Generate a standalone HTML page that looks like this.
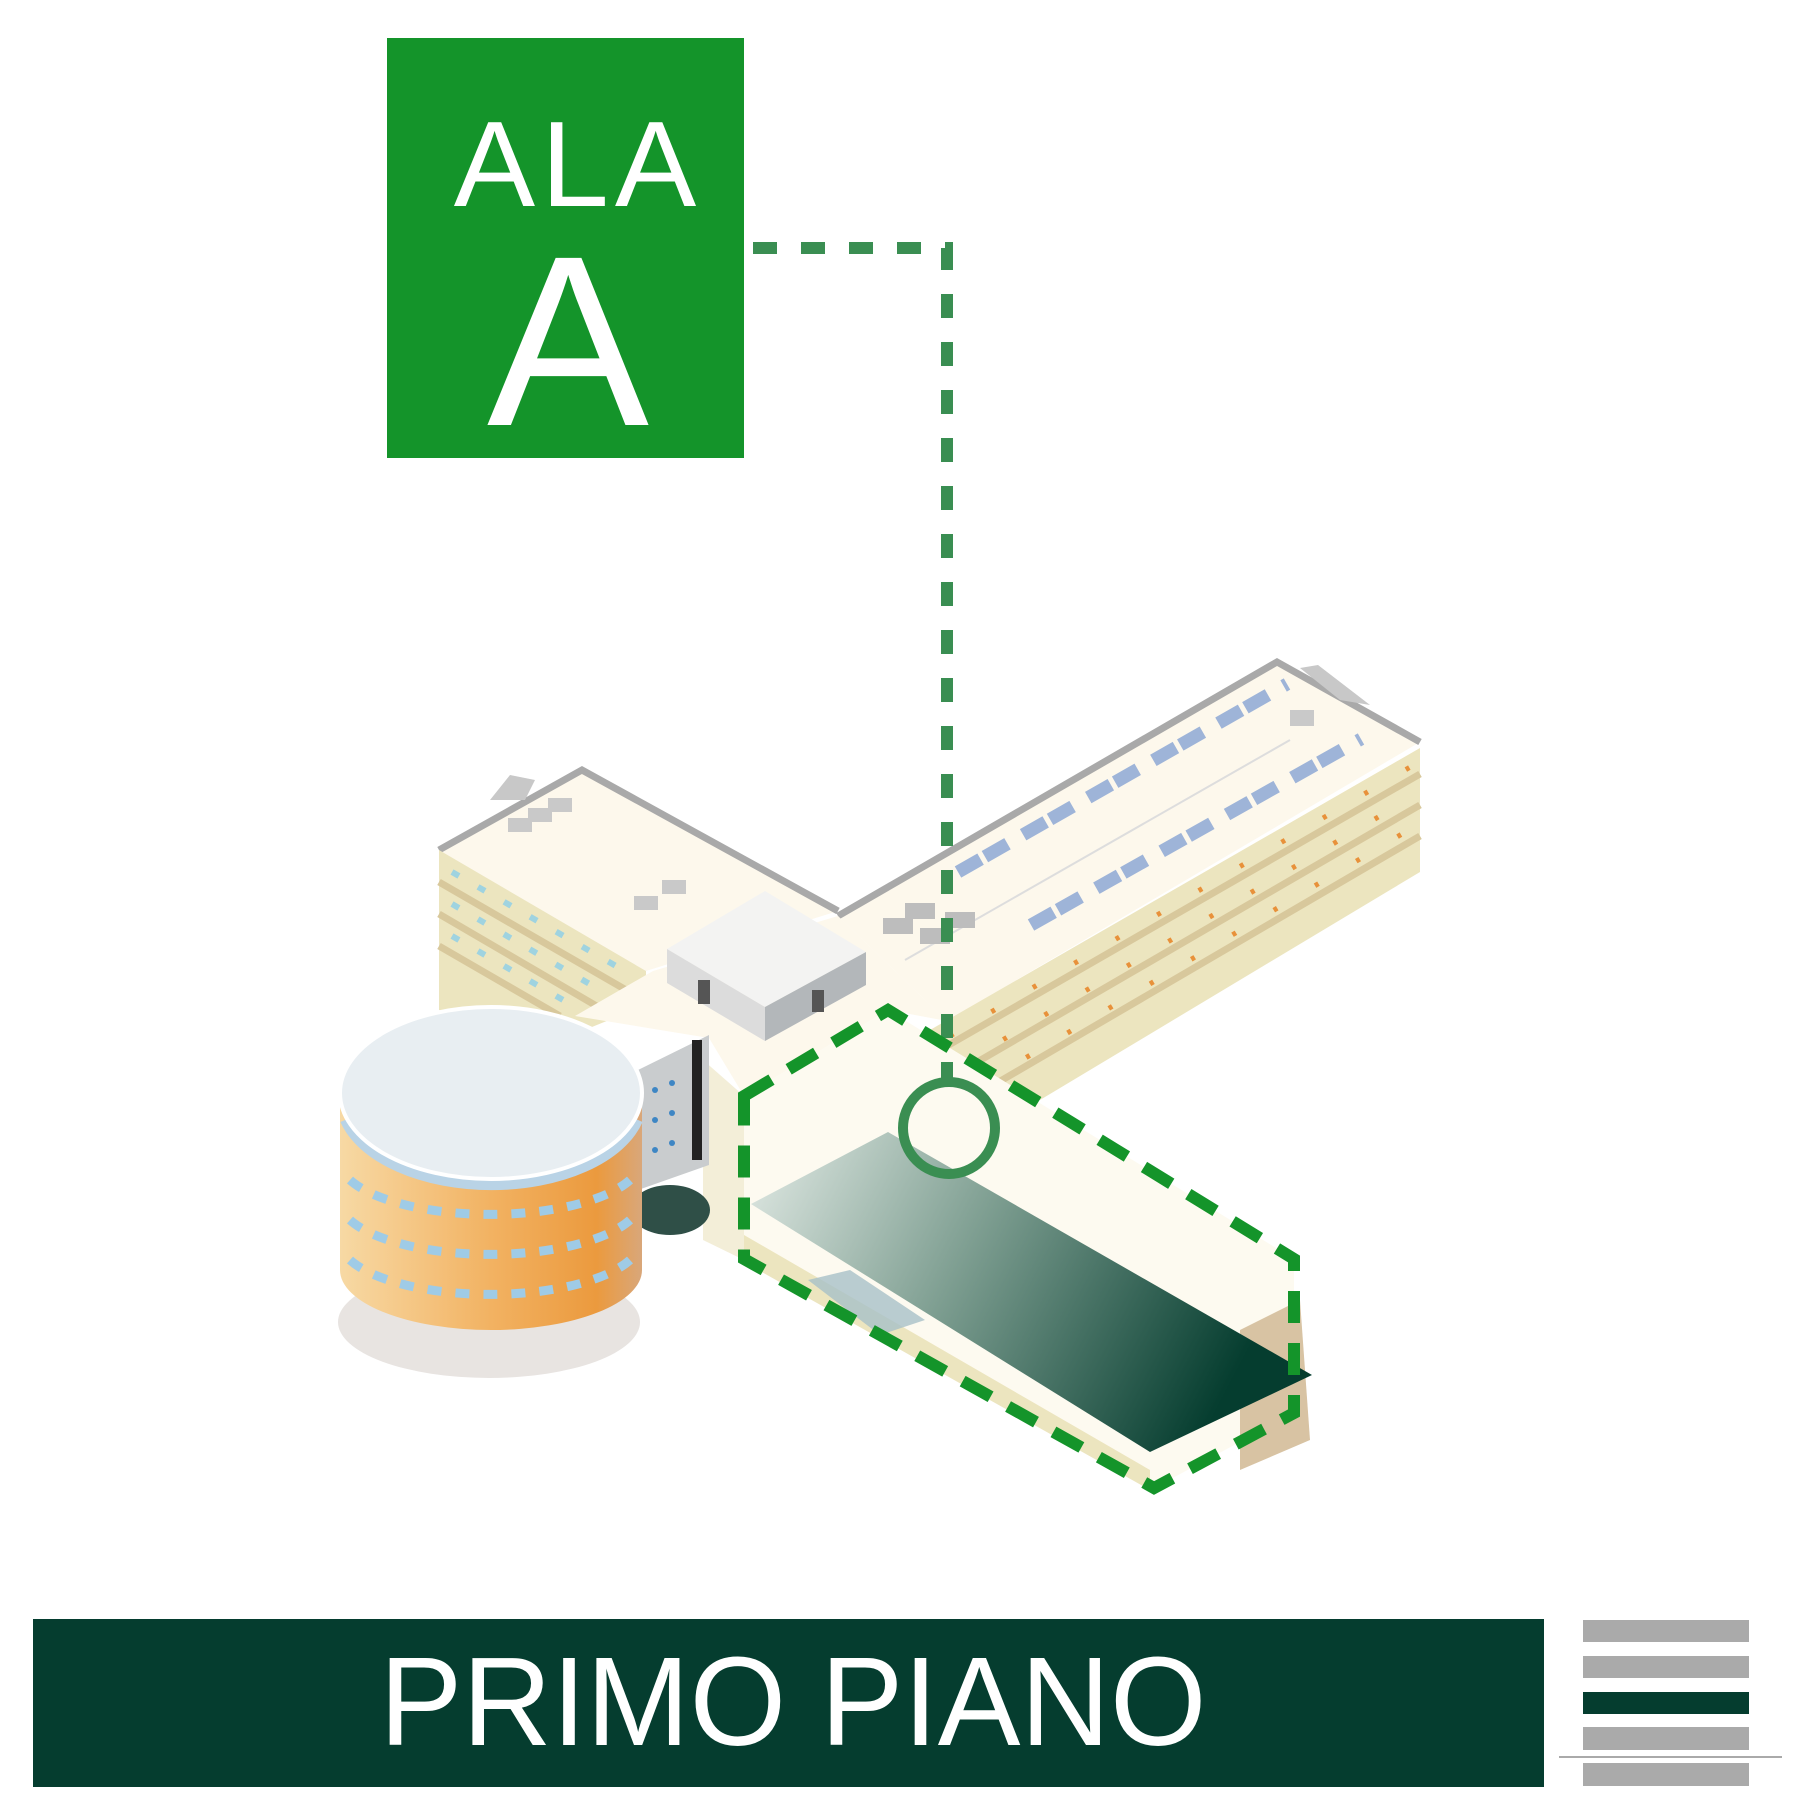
<!DOCTYPE html>
<html><head><meta charset="utf-8"><style>
html,body{margin:0;padding:0;background:#fff;}
svg{display:block;}
</style></head><body>
<svg width="1793" height="1817" viewBox="0 0 1793 1817" xmlns="http://www.w3.org/2000/svg">
<defs>
<linearGradient id="roofg" x1="0" y1="0" x2="1" y2="0.3">
<stop offset="0" stop-color="#e3ebe6"/><stop offset="0.45" stop-color="#7f9f92"/><stop offset="1" stop-color="#053d2f"/>
</linearGradient>
<linearGradient id="cyl" x1="0" y1="0" x2="1" y2="0">
<stop offset="0" stop-color="#f7d9a4"/><stop offset="0.5" stop-color="#f2b262"/><stop offset="0.85" stop-color="#eb9a3e"/><stop offset="1" stop-color="#d9a77a"/>
</linearGradient>
</defs>
<rect width="1793" height="1817" fill="#fff"/>

<rect x="387" y="38" width="357" height="420" fill="#14942a"/>
<text x="578" y="206" font-family="Liberation Sans, sans-serif" font-size="122" fill="#fff" text-anchor="middle" letter-spacing="6">ALA</text>
<text x="568" y="425" font-family="Liberation Sans, sans-serif" font-size="243" fill="#fff" text-anchor="middle">A</text>

<polygon points="439,850 582,770 838,911 646,971" fill="#fdf8ec"/>
<polyline points="439,850 582,770 838,911" fill="none" stroke="#a9a9a9" stroke-width="7"/>
<polygon points="439,850 646,971 646,1005 560,1040 439,1010" fill="#ece5bf"/>
<g stroke="#d8c89c" stroke-width="7">
<line x1="439" y1="882" x2="640" y2="998"/>
<line x1="439" y1="914" x2="600" y2="1008"/>
<line x1="439" y1="946" x2="560" y2="1016"/>
</g>
<g stroke="#9fd3e0" stroke-width="6" stroke-dasharray="8 22">
<line x1="452" y1="872" x2="630" y2="974"/>
<line x1="452" y1="904" x2="600" y2="990"/>
<line x1="452" y1="936" x2="570" y2="1004"/>
</g>
<polygon points="490,800 510,775 535,780 525,800" fill="#c8c8c8"/>
<g fill="#c9c9c9"><rect x="508" y="818" width="24" height="14"/><rect x="528" y="808" width="24" height="14"/><rect x="548" y="798" width="24" height="14"/><rect x="634" y="896" width="24" height="14"/><rect x="662" y="880" width="24" height="14"/></g>

<polygon points="838,916 1277,662 1420,742 947,1021" fill="#fdf8ec"/>
<polyline points="838,916 1277,662 1420,742" fill="none" stroke="#a9a9a9" stroke-width="7"/>
<polygon points="1300,668 1318,665 1370,705 1340,700" fill="#c8c8c8"/>
<polygon points="930,1030 1420,748 1420,872 1040,1100 930,1095" fill="#ece5bf"/>
<g stroke="#d8c89c" stroke-width="7">
<line x1="940" y1="1050" x2="1420" y2="774"/>
<line x1="960" y1="1072" x2="1420" y2="805"/>
<line x1="985" y1="1090" x2="1420" y2="836"/>
</g>
<g stroke="#e8913a" stroke-width="5" stroke-dasharray="4 44">
<line x1="950" y1="1036" x2="1412" y2="766"/>
<line x1="962" y1="1064" x2="1412" y2="797"/>
<line x1="985" y1="1082" x2="1412" y2="828"/>
</g>
<g stroke="#9eb4d8" stroke-width="13" stroke-dasharray="26 5 26 18">
<line x1="958" y1="872" x2="1287" y2="684"/>
<line x1="1031" y1="925" x2="1361" y2="739"/>
</g>
<line x1="905" y1="960" x2="1290" y2="740" stroke="#ddd" stroke-width="2"/>
<rect x="1290" y="710" width="24" height="16" fill="#c9c9c9"/>
<g fill="#bdbdbd"><rect x="883" y="918" width="30" height="16"/><rect x="905" y="903" width="30" height="16"/><rect x="920" y="928" width="30" height="16"/><rect x="945" y="912" width="30" height="16"/></g>

<polygon points="575,1016 653,971 838,916 947,1021 888,1010 744,1096 709,1038" fill="#fdf8ec"/>
<polygon points="703,1060 744,1096 744,1260 703,1240" fill="#f3eed8"/>
<polygon points="667,949 765,891 866,952 765,1007" fill="#f3f3f2"/>
<polygon points="667,949 765,1007 765,1041 667,983" fill="#dcdcdc"/>
<polygon points="765,1007 866,952 866,985 765,1041" fill="#b3b7ba"/>
<rect x="698" y="980" width="12" height="24" fill="#555"/>
<rect x="812" y="990" width="12" height="22" fill="#555"/>

<polygon points="638,1070 709,1035 709,1165 638,1190" fill="#c9ccce"/>
<rect x="692" y="1040" width="10" height="120" fill="#222"/>
<g fill="#3e86c4"><circle cx="655" cy="1090" r="3"/><circle cx="672" cy="1083" r="3"/><circle cx="655" cy="1120" r="3"/><circle cx="672" cy="1113" r="3"/><circle cx="655" cy="1150" r="3"/><circle cx="672" cy="1143" r="3"/></g>
<ellipse cx="670" cy="1210" rx="40" ry="25" fill="#2f4f47"/>

<polygon points="744,1096 888,1010 1294,1259 1294,1413 1154,1488 744,1259" fill="#fdfaf0"/>
<polygon points="744,1235 1150,1470 1150,1490 744,1262" fill="#ece5bf"/>
<polygon points="1240,1330 1300,1300 1310,1440 1240,1470" fill="#d8c3a3"/>
<polygon points="751,1204 888,1132 1312,1375 1150,1452" fill="url(#roofg)"/>
<polygon points="808,1280 850,1270 925,1320 880,1335" fill="#a8c0c8" opacity="0.8"/>

<ellipse cx="489" cy="1322" rx="151" ry="56" fill="#e8e4e1"/>
<path d="M340,1093 L340,1270 A151,60 0 0 0 642,1270 L642,1093 Z" fill="url(#cyl)"/>
<g stroke="#9fcbe6" stroke-width="9" stroke-dasharray="14 14" fill="none">
<path d="M350,1180 A151,55 0 0 0 630,1180"/>
<path d="M350,1220 A151,55 0 0 0 630,1220"/>
<path d="M350,1260 A151,55 0 0 0 630,1260"/>
</g>
<path d="M345,1120 A151,86 0 0 0 638,1120" stroke="#b9d3e6" stroke-width="10" fill="none"/>
<ellipse cx="491" cy="1093" rx="151" ry="86" fill="#e8eef2" stroke="#fff" stroke-width="4"/>

<polyline points="753,248 947,248 947,1082" fill="none" stroke="#3a8e52" stroke-width="12" stroke-dasharray="24 24"/>
<circle cx="949" cy="1128" r="46" fill="none" stroke="#3a8e52" stroke-width="10"/>
<polygon points="744,1096 888,1010 1294,1259 1294,1413 1154,1488 744,1259" fill="none" stroke="#14942a" stroke-width="12" stroke-dasharray="32 20"/>

<rect x="33" y="1619" width="1511" height="168" fill="#053d2f"/>
<text x="793" y="1745" font-family="Liberation Sans, sans-serif" font-size="126" fill="#fff" text-anchor="middle" textLength="827" lengthAdjust="spacingAndGlyphs">PRIMO PIANO</text>

<rect x="1583" y="1620" width="166" height="22" fill="#aaa"/>
<rect x="1583" y="1656" width="166" height="22" fill="#aaa"/>
<rect x="1583" y="1692" width="166" height="22" fill="#053d2f"/>
<rect x="1583" y="1727" width="166" height="23" fill="#aaa"/>
<line x1="1559" y1="1757" x2="1782" y2="1757" stroke="#aaa" stroke-width="2"/>
<rect x="1583" y="1763" width="166" height="23" fill="#aaa"/>
</svg>
</body></html>
